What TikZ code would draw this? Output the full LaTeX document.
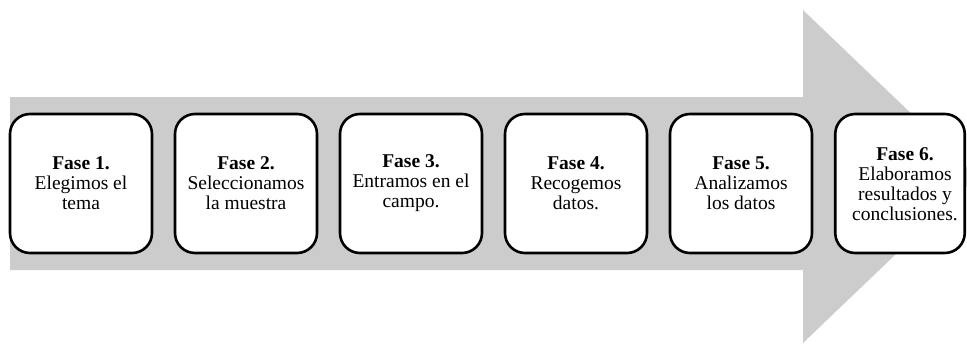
\documentclass[tikz,border=0pt]{standalone}
\usepackage{fontspec}
\setmainfont{Liberation Serif}
\begin{document}
\begin{tikzpicture}[x=1pt,y=-1pt,
  phasebox/.style={draw=black, line width=2.6pt, fill=white, rounded corners=20pt,
    minimum width=142pt, minimum height=139pt, inner sep=0pt,
    align=center, font=\fontsize{19.5}{20}\selectfont},
  phasetext/.style={inner sep=0pt, align=center, font=\fontsize{19.5}{20}\selectfont},
  bigarrow/.style={fill=black!20, draw=none}]
  \clip (0,0) rectangle (967,354);
  \useasboundingbox (0,0) rectangle (967,354);
  % broad grey process arrow behind the phases
  \fill[bigarrow] (10,97) -- (803,97) -- (803,10) -- (977,176.5)
    -- (803,343) -- (803,270) -- (10,270) -- cycle;
  % the six phases
  \node[phasebox] (f1) at (81,183.5)  {\textbf{Fase 1.}\\Elegimos el\\tema};
  \node[phasebox] (f2) at (246,183.5) {\textbf{Fase 2.}\\Seleccionamos\\la muestra};
  \node[phasebox] (f3) at (411,183.5) {\textbf{Fase 3.}\\Entramos en el\\campo.};
  \node[phasebox] (f4) at (576,183.5) {\textbf{Fase 4.}\\Recogemos\\datos.};
  \node[phasebox] (f5) at (741,183.5) {\textbf{Fase 5.}\\Analizamos\\los datos};
  \node[phasebox, minimum width=129.5pt] (f6) at (900,183.5) {};
  \node[phasetext] (f6text) at (905,184) {\textbf{Fase 6.}\\Elaboramos\\resultados y\\conclusiones.};
\end{tikzpicture}
\end{document}
